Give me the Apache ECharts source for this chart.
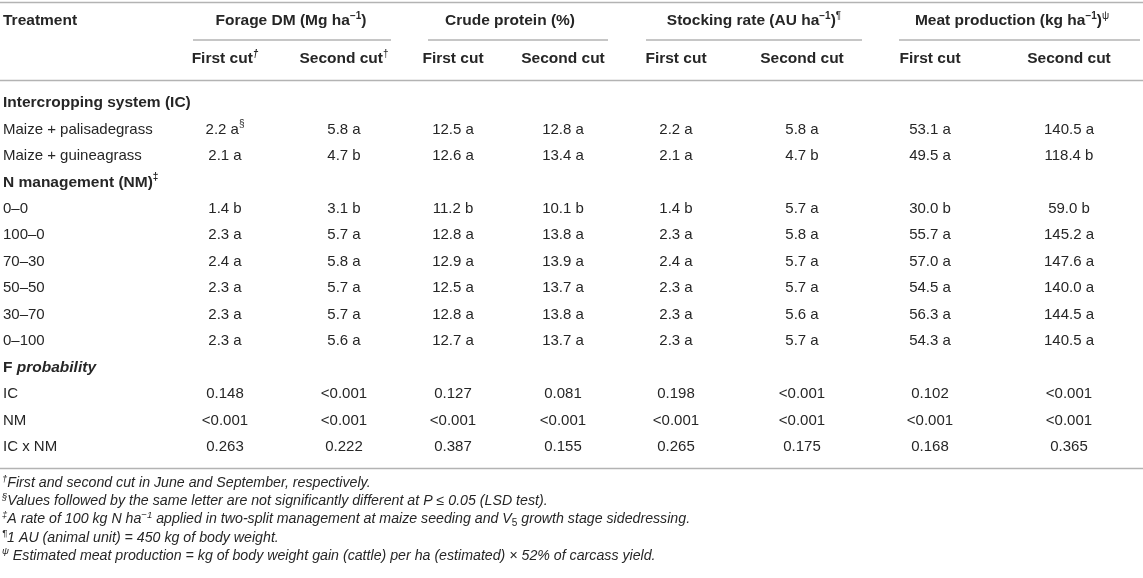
<!DOCTYPE html>
<html><head><meta charset="utf-8">
<script src="https://cdn.jsdelivr.net/npm/echarts@6/dist/echarts.min.js"></script>
<style>html,body{margin:0;padding:0;background:#fff}#c{width:1143px;height:578px}</style>
</head><body><div id="c"></div>
<script>
// ---------- data ----------
const treatments = ['Maize + palisadegrass', 'Maize + guineagrass', '0–0', '100–0', '70–30', '50–50', '30–70', '0–100'];
const sections = ['Intercropping system (IC)', 'N management (NM)', 'F probability'];
const effects = ['IC', 'NM', 'IC x NM'];

const forageFirst   = [2.2, 2.1, 1.4, 2.3, 2.4, 2.3, 2.3, 2.3];
const forageFirstL  = ['a', 'a', 'b', 'a', 'a', 'a', 'a', 'a'];
const forageSecond  = [5.8, 4.7, 3.1, 5.7, 5.8, 5.7, 5.7, 5.6];
const forageSecondL = ['a', 'b', 'b', 'a', 'a', 'a', 'a', 'a'];
const cpFirst       = [12.5, 12.6, 11.2, 12.8, 12.9, 12.5, 12.8, 12.7];
const cpFirstL      = ['a', 'a', 'b', 'a', 'a', 'a', 'a', 'a'];
const cpSecond      = [12.8, 13.4, 10.1, 13.8, 13.9, 13.7, 13.8, 13.7];
const cpSecondL     = ['a', 'a', 'b', 'a', 'a', 'a', 'a', 'a'];
const srFirst       = [2.2, 2.1, 1.4, 2.3, 2.4, 2.3, 2.3, 2.3];
const srFirstL      = ['a', 'a', 'b', 'a', 'a', 'a', 'a', 'a'];
const srSecond      = [5.8, 4.7, 5.7, 5.8, 5.7, 5.7, 5.6, 5.7];
const srSecondL     = ['a', 'b', 'a', 'a', 'a', 'a', 'a', 'a'];
const meatFirst     = [53.1, 49.5, 30.0, 55.7, 57.0, 54.5, 56.3, 54.3];
const meatFirstL    = ['a', 'a', 'b', 'a', 'a', 'a', 'a', 'a'];
const meatSecond    = [140.5, 118.4, 59.0, 145.2, 147.6, 140.0, 144.5, 140.5];
const meatSecondL   = ['a', 'b', 'b', 'a', 'a', 'a', 'a', 'a'];

const probIC   = ['0.148', '<0.001', '0.127', '0.081', '0.198', '<0.001', '0.102', '<0.001'];
const probNM   = ['<0.001', '<0.001', '<0.001', '<0.001', '<0.001', '<0.001', '<0.001', '<0.001'];
const probICNM = ['0.263', '0.222', '0.387', '0.155', '0.265', '0.175', '0.168', '0.365'];

const groupTitles = ['Forage DM', 'Crude protein', 'Stocking rate', 'Meat production'];
const groupUnits  = ['Mg ha', '%', 'AU ha', 'kg ha'];
const subHeads    = ['First cut', 'Second cut'];

const footnotes = [
  ['†', 'First and second cut in June and September, respectively.'],
  ['§', 'Values followed by the same letter are not significantly different at P ≤ 0.05 (LSD test).'],
  ['‡', 'A rate of 100 kg N ha', '−1', ' applied in two-split management at maize seeding and V', '5', ' growth stage sidedressing.'],
  ['¶', '1 AU (animal unit) = 450 kg of body weight.'],
  ['ψ', ' Estimated meat production = kg of body weight gain (cattle) per ha (estimated) × 52% of carcass yield.']
];

// ---------- layout ----------
const W = 1143, H = 578;
const colX = [225, 344, 453, 563, 676, 802, 930, 1069];
const groupX = [291, 510, 754, 1012];
const groupLine = [[193, 391], [428, 608], [646, 862], [899, 1140]];
const headY1 = 21, headY2 = 59;
const rowY0 = 103, rowStep = 26.45;
const footY0 = 483, footStep = 18.2;
const lineYs = {top: 2.5, group: 40, head: 80.5, bottom: 468.5};
const TXT = '#262626', RULE = '#b3b3b3';
const FONT = '"Liberation Sans", Arial, Helvetica, sans-serif';

const rich = {
  H:   {fontFamily: FONT, fontSize: 15.5, fontWeight: 'bold', color: TXT, lineHeight: 20},
  Hs:  {fontFamily: FONT, fontSize: 10, fontWeight: 'bold', color: TXT, lineHeight: 10, verticalAlign: 'top'},
  Hsi: {fontFamily: FONT, fontSize: 10, fontWeight: 'bold', fontStyle: 'italic', color: TXT, lineHeight: 10, verticalAlign: 'top'},
  Hsn: {fontFamily: FONT, fontSize: 10, color: TXT, lineHeight: 10, verticalAlign: 'top'},
  BI:  {fontFamily: FONT, fontSize: 15.5, fontWeight: 'bold', fontStyle: 'italic', color: TXT, lineHeight: 20},
  N:   {fontFamily: FONT, fontSize: 15, color: TXT, lineHeight: 20},
  Ns:  {fontFamily: FONT, fontSize: 10, color: TXT, lineHeight: 10, verticalAlign: 'top'},
  F:   {fontFamily: FONT, fontSize: 14.2, fontStyle: 'italic', color: TXT, lineHeight: 18},
  Fs:  {fontFamily: FONT, fontSize: 9.5, fontStyle: 'italic', color: TXT, lineHeight: 9, verticalAlign: 'top'},
  Fu:  {fontFamily: FONT, fontSize: 10, color: TXT, lineHeight: 9, verticalAlign: 'bottom'}
};
const t = (s, x) => '{' + s + '|' + x + '}';

// ---------- build cells ----------
const cells = [];
const add = (x, y, text, align) => cells.push({x, y, text, align: align || 'center'});

// header
add(3, headY1, t('H', 'Treatment'), 'left');
groupTitles.forEach((g, i) => {
  let s;
  if (groupUnits[i] === '%') s = t('H', g + ' (%)');
  else s = t('H', g + ' (' + groupUnits[i]) + t('Hs', '−1') + t('H', ')');
  if (i === 2) s += t('Hsn', '¶');
  if (i === 3) s += t('Hsn', 'ψ');
  add(groupX[i], headY1, s);
});
colX.forEach((x, c) => {
  let s = t('H', subHeads[c % 2]);
  if (c === 0) s += t('Hsi', '†');
  if (c === 1) s += t('Hsn', '†');
  add(x, headY2, s);
});

// body
const valueCols = [
  [forageFirst, forageFirstL], [forageSecond, forageSecondL],
  [cpFirst, cpFirstL], [cpSecond, cpSecondL],
  [srFirst, srFirstL], [srSecond, srSecondL],
  [meatFirst, meatFirstL], [meatSecond, meatSecondL]
];
const rowY = i => rowY0 + i * rowStep;
add(3, rowY(0), t('H', sections[0]), 'left');
add(3, rowY(3), t('H', sections[1]) + t('Hs', '‡'), 'left');
add(3, rowY(10), t('H', 'F ') + t('BI', sections[2].slice(2)), 'left');
treatments.forEach((name, r) => {
  const ri = r < 2 ? r + 1 : r + 2;
  add(3, rowY(ri), t('N', name), 'left');
  valueCols.forEach(([vals, lets], c) => {
    let s = t('N', vals[r].toFixed(1) + ' ' + lets[r]);
    if (r === 0 && c === 0) s += t('Ns', '§');
    add(colX[c], rowY(ri), s);
  });
});
[probIC, probNM, probICNM].forEach((arr, k) => {
  add(3, rowY(11 + k), t('N', effects[k]), 'left');
  arr.forEach((v, c) => add(colX[c], rowY(11 + k), t('N', v)));
});

// footnotes
footnotes.forEach((f, i) => {
  let s = t('Fs', f[0]) + t('F', f[1]);
  if (f.length > 2) s += t('Fs', f[2]) + t('F', f[3]) + t('Fu', f[4]) + t('F', f[5]);
  add(2, footY0 + i * footStep, s, 'left');
});

// rules
const rules = [
  [0, W, lineYs.top], [0, W, lineYs.head], [0, W, lineYs.bottom]
].concat(groupLine.map(g => [g[0], g[1], lineYs.group]));

// ---------- chart ----------
const chart = echarts.init(document.getElementById('c'), null, {renderer: 'canvas'});
chart.setOption({
  animation: false,
  backgroundColor: '#fff',
  grid: {left: 0, right: 0, top: 0, bottom: 0},
  xAxis: {type: 'value', min: 0, max: W, show: false},
  yAxis: {type: 'value', min: 0, max: H, inverse: true, show: false},
  series: [
    {
      type: 'custom', clip: false, silent: true,
      data: rules.map(r => [r[0], r[2], r[1]]),
      renderItem: (params, api) => {
        const p1 = api.coord([api.value(0), api.value(1)]);
        const p2 = api.coord([api.value(2), api.value(1)]);
        return {type: 'line', shape: {x1: p1[0], y1: p1[1], x2: p2[0], y2: p2[1]},
                style: {stroke: RULE, lineWidth: 1.6}};
      }
    },
    {
      type: 'custom', clip: false, silent: true,
      data: cells.map(c => [c.x, c.y]),
      renderItem: (params, api) => {
        const cell = cells[params.dataIndex];
        const p = api.coord([api.value(0), api.value(1)]);
        return {type: 'text', x: p[0], y: p[1],
                style: {text: cell.text, rich: rich, align: cell.align, verticalAlign: 'middle',
                        fontFamily: FONT, fontSize: 15, fill: TXT}};
      }
    }
  ]
});
</script></body></html>
